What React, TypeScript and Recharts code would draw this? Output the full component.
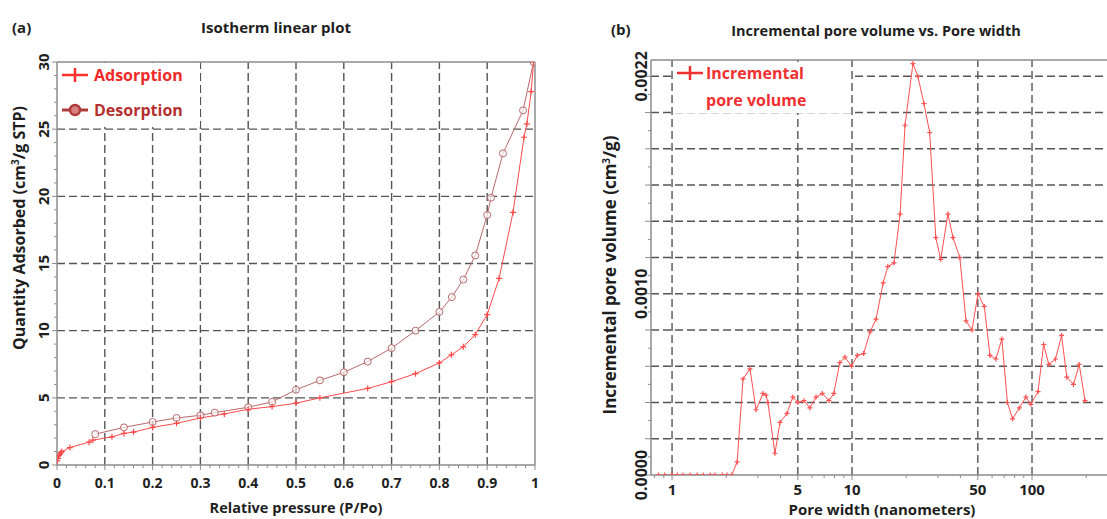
import React from 'react';
import { LineChart, Line, XAxis, YAxis, ReferenceLine } from 'recharts';

// ---------- Data: (a) isotherm ----------
const adsP = [0.0005, 0.002, 0.004, 0.006, 0.008, 0.01, 0.027, 0.067, 0.075, 0.115, 0.14, 0.16, 0.2, 0.25, 0.3, 0.35, 0.4, 0.45, 0.5, 0.55, 0.65, 0.7, 0.75, 0.8, 0.825, 0.85, 0.875, 0.9, 0.925, 0.954, 0.977, 0.983, 0.992, 0.997];
const adsQ = [0.3, 0.5, 0.7, 0.8, 0.9, 1.0, 1.3, 1.7, 1.85, 2.1, 2.35, 2.45, 2.8, 3.1, 3.5, 3.8, 4.15, 4.35, 4.6, 5.0, 5.7, 6.2, 6.8, 7.6, 8.2, 8.8, 9.7, 11.2, 13.9, 18.8, 24.4, 25.4, 27.8, 30.0];
const desP = [0.997, 0.975, 0.933, 0.908, 0.9, 0.875, 0.85, 0.826, 0.8, 0.75, 0.7, 0.65, 0.6, 0.55, 0.5, 0.45, 0.4, 0.33, 0.3, 0.25, 0.2, 0.14, 0.08];
const desQ = [30.0, 26.4, 23.2, 19.9, 18.6, 15.6, 13.8, 12.5, 11.4, 10.0, 8.7, 7.7, 6.9, 6.3, 5.6, 4.7, 4.3, 3.9, 3.7, 3.5, 3.2, 2.8, 2.3];

// ---------- Data: (b) incremental pore volume ----------
const poreW = [0.84, 0.91, 1.0, 1.07, 1.15, 1.26, 1.38, 1.49, 1.63, 1.73, 1.9, 2.02, 2.15, 2.3, 2.48, 2.71, 2.93, 3.2, 3.33, 3.41, 3.73, 3.98, 4.35, 4.69, 5.0, 5.41, 5.83, 6.31, 6.84, 7.44, 7.92, 8.55, 9.14, 9.94, 10.7, 11.6, 12.6, 13.6, 14.9, 15.8, 17.1, 18.5, 19.7, 21.8, 23.2, 25.1, 27.0, 29.2, 31.1, 34.1, 36.4, 39.7, 43.0, 46.4, 50.1, 54.3, 58.4, 63, 68, 73, 78, 85, 92.5, 98.5, 108, 116, 124, 135, 146, 156, 170, 183, 197];
const poreV = [0, 0, 0, 0, 0, 0, 0, 0, 0, 0, 0, 0, 0, 0.000072, 0.00053, 0.000586, 0.00036, 0.00045, 0.00044, 0.0004, 0.00012, 0.00029, 0.00034, 0.00043, 0.0004, 0.00041, 0.00037, 0.00043, 0.00045, 0.00041, 0.00045, 0.00062, 0.00065, 0.0006, 0.00066, 0.00067, 0.00079, 0.00086, 0.00106, 0.00115, 0.00117, 0.00144, 0.00193, 0.00227, 0.0022, 0.00205, 0.00189, 0.00131, 0.00119, 0.00144, 0.00131, 0.0012, 0.00085, 0.0008, 0.001, 0.00093, 0.00066, 0.00064, 0.00075, 0.0004, 0.00031, 0.00037, 0.00043, 0.00039, 0.00046, 0.00072, 0.00061, 0.00064, 0.00077, 0.00054, 0.0005, 0.00061, 0.00041];

// ---------- Ticks / labels ----------
const xTicksA = [0, 0.1, 0.2, 0.3, 0.4, 0.5, 0.6, 0.7, 0.8, 0.9, 1];
const xLabelsA = ['0', '0.1', '0.2', '0.3', '0.4', '0.5', '0.6', '0.7', '0.8', '0.9', '1'];
const yTicksA = [0, 5, 10, 15, 20, 25, 30];
const yLabelsA = ['0', '5', '10', '15', '20', '25', '30'];
const xTicksB = [1, 5, 10, 50, 100];
const xLabelsB = ['1', '5', '10', '50', '100'];
const xMinorB = [0.8, 0.9, 2, 3, 4, 6, 7, 8, 9, 20, 30, 40, 60, 70, 80, 90, 200];
const yTicksB = [0, 0.001, 0.0022];
const yLabelsB = ['0.0000', '0.0010', '0.0022'];
const yGridB = [0.0002, 0.0004, 0.0006, 0.0008, 0.001, 0.0012, 0.0014, 0.0016, 0.0018, 0.002, 0.0022];

const xMinorA = Array.from({ length: 51 }, (_, i) => Math.round(i * 2) / 100);
const yMinorA = Array.from({ length: 31 }, (_, i) => i);
const yMinorB = Array.from({ length: 23 }, (_, i) => Math.round(i * 10) / 100000);

const adsData = adsP.map((p, i) => ({ x: p, y: adsQ[i] }));
const desData = desP.map((p, i) => ({ x: p, y: desQ[i] }));
const poreData = poreW.map((w, i) => ({ x: w, y: poreV[i] }));

const FONT = "'Open Sans', 'Noto Sans', sans-serif";
const AXIS = '#8c8c8c';
const GRID = '#555555';
const ADS = '#ff4a4a';
const DES = '#b86a6a';
const PORE = '#ff5050';

const near = (a: number, b: number) => Math.abs(a - b) < 1e-9;
const labelOf = (ticks: number[], labels: string[], v: number) => {
  const i = ticks.findIndex((t) => near(t, v));
  return i >= 0 ? labels[i] : null;
};

const XTickA = (props: any) => {
  const { x, y, payload } = props;
  const lab = labelOf(xTicksA, xLabelsA, payload.value);
  return (
    <g>
      <line x1={x} x2={x} y1={y} y2={y + (lab ? 5 : 3)} stroke={AXIS} strokeWidth={1} />
      {lab && (
        <text x={x} y={y + 23} textAnchor="middle" fontFamily={FONT} fontWeight={700} fontSize={14} fill="#1e1e1e">
          {lab}
        </text>
      )}
    </g>
  );
};

const YTickA = (props: any) => {
  const { x, y, payload } = props;
  const lab = labelOf(yTicksA, yLabelsA, payload.value);
  return (
    <g>
      <line x1={x} x2={x - (lab ? 5 : 3)} y1={y} y2={y} stroke={AXIS} strokeWidth={1} />
      {lab && (
        <text transform={`translate(${x - 8},${y}) rotate(-90)`} textAnchor="middle" fontFamily={FONT} fontWeight={700} fontSize={15} fill="#1e1e1e">
          {lab}
        </text>
      )}
    </g>
  );
};

const XTickB = (props: any) => {
  const { x, y, payload } = props;
  const lab = labelOf(xTicksB, xLabelsB, payload.value);
  return (
    <g>
      <line x1={x} x2={x} y1={y} y2={y + (lab ? 5 : 3)} stroke={AXIS} strokeWidth={1} />
      {lab && (
        <text x={x} y={y + 20} textAnchor="middle" fontFamily={FONT} fontWeight={700} fontSize={15} fill="#1e1e1e">
          {lab}
        </text>
      )}
    </g>
  );
};

const YTickB = (props: any) => {
  const { x, y, payload } = props;
  const lab = labelOf(yTicksB, yLabelsB, payload.value);
  const major = yGridB.some((g) => near(g, payload.value)) || near(payload.value, 0);
  return (
    <g>
      <line x1={x} x2={x - (major ? 6 : 3)} y1={y} y2={y} stroke={AXIS} strokeWidth={1} />
      {lab && (
        <text transform={`translate(${x - 4},${y}) rotate(-90)`} textAnchor="middle" fontFamily={FONT} fontWeight={700} fontSize={16} fill="#1e1e1e">
          {lab}
        </text>
      )}
    </g>
  );
};

const plusDot = (color: string, s: number) => (p: any) => {
  const { cx, cy, index } = p;
  if (cx == null || cy == null) return <g key={index} />;
  return (
    <path key={index} d={`M${cx - s},${cy}H${cx + s}M${cx},${cy - s}V${cy + s}`} stroke={color} strokeWidth={1.2} fill="none" />
  );
};

const circleDot = (p: any) => {
  const { cx, cy, index } = p;
  if (cx == null || cy == null) return <g key={index} />;
  return <circle key={index} cx={cx} cy={cy} r={3.5} stroke={DES} strokeWidth={1} fill="#ffffff" fillOpacity={0.6} />;
};

const gridDash = '8 4';

export default function App() {
  return (
    <div style={{ position: 'absolute', left: 0, top: 0, width: 1107, height: 519, background: '#ffffff', overflow: 'hidden' }}>
      {/* (a) Isotherm linear plot */}
      <div style={{ position: 'absolute', left: 0, top: 0 }}>
        <LineChart width={560} height={519} margin={{ top: 62, right: 25, bottom: 0, left: 17 }}>
          <XAxis
            type="number"
            dataKey="x"
            domain={[0, 1]}
            ticks={xMinorA}
            interval={0}
            height={54}
            tickSize={0}
            tickMargin={0}
            tickLine={false}
            axisLine={{ stroke: AXIS, strokeWidth: 1.5 }}
            tick={XTickA}
            allowDataOverflow
          />
          <YAxis
            type="number"
            domain={[0, 30]}
            ticks={yMinorA}
            interval={0}
            width={40}
            tickSize={0}
            tickMargin={0}
            tickLine={false}
            axisLine={{ stroke: AXIS, strokeWidth: 1.5 }}
            tick={YTickA}
            allowDataOverflow
          />
          {xTicksA.slice(1, -1).map((v) => (
            <ReferenceLine key={'xa' + v} x={v} stroke={GRID} strokeWidth={1.4} strokeDasharray={gridDash} />
          ))}
          {yTicksA.slice(1, -1).map((v) => (
            <ReferenceLine key={'ya' + v} y={v} stroke={GRID} strokeWidth={1.4} strokeDasharray={gridDash} />
          ))}
          <ReferenceLine x={1} stroke={AXIS} strokeWidth={1.5} />
          <ReferenceLine y={30} stroke={AXIS} strokeWidth={1.5} />
          <Line data={desData} dataKey="y" stroke={DES} strokeWidth={1} dot={circleDot} isAnimationActive={false} />
          <Line data={adsData} dataKey="y" stroke={ADS} strokeWidth={1} dot={plusDot(ADS, 3)} isAnimationActive={false} />
        </LineChart>
      </div>

      {/* (b) Incremental pore volume */}
      <div style={{ position: 'absolute', left: 560, top: 0 }}>
        <LineChart width={547} height={519} margin={{ top: 60, right: 0, bottom: 0, left: 41 }}>
          <XAxis
            type="number"
            dataKey="x"
            scale="log"
            domain={[0.764, 261]}
            ticks={[...xTicksB, ...xMinorB].sort((a, b) => a - b)}
            interval={0}
            height={44}
            tickSize={0}
            tickMargin={0}
            tickLine={false}
            axisLine={{ stroke: AXIS, strokeWidth: 1.5 }}
            tick={XTickB}
            allowDataOverflow
          />
          <YAxis
            type="number"
            domain={[0, 0.00229]}
            ticks={yMinorB}
            interval={0}
            width={50}
            tickSize={0}
            tickMargin={0}
            tickLine={false}
            axisLine={{ stroke: AXIS, strokeWidth: 1.5 }}
            tick={YTickB}
            allowDataOverflow
          />
          {xTicksB.map((v) => (
            <ReferenceLine key={'xb' + v} x={v} stroke={GRID} strokeWidth={1.4} strokeDasharray={gridDash} />
          ))}
          {yGridB.map((v) => (
            <ReferenceLine key={'yb' + v} y={v} stroke={GRID} strokeWidth={1.4} strokeDasharray={gridDash} />
          ))}
          <ReferenceLine y={0.00229} stroke={AXIS} strokeWidth={1.5} />
          <Line data={poreData} dataKey="y" stroke={PORE} strokeWidth={1} dot={plusDot(PORE, 2.5)} isAnimationActive={false} />
        </LineChart>
      </div>

      {/* Overlay: titles, axis titles, legends */}
      <svg width={1107} height={519} style={{ position: 'absolute', left: 0, top: 0, pointerEvents: 'none' }}>
        <g fontFamily={FONT} fontWeight={700} fill="#1e1e1e">
          <text x={12} y={33} fontSize={15}>(a)</text>
          <text x={276} y={33} fontSize={15}>
            <tspan textAnchor="middle">Isotherm linear plot</tspan>
          </text>
          <text x={611} y={35} fontSize={15}>(b)</text>
          <text x={876} y={36} fontSize={14.5} textAnchor="middle">Incremental pore volume vs. Pore width</text>
          <text x={296} y={513} fontSize={14.5} textAnchor="middle">Relative pressure (P/Po)</text>
          <text x={882} y={515} fontSize={15} textAnchor="middle">Pore width (nanometers)</text>
          <text transform="translate(25,228) rotate(-90)" fontSize={16} textAnchor="middle">
            Quantity Adsorbed (cm<tspan fontSize={10} dy={-6}>3</tspan><tspan dy={6}>/g STP)</tspan>
          </text>
          <text transform="translate(616,275) rotate(-90)" fontSize={17} textAnchor="middle">
            Incremental pore volume (cm<tspan fontSize={10} dy={-6}>3</tspan><tspan dy={6}>/g)</tspan>
          </text>
        </g>

        {/* legend (a) */}
        <rect x={58} y={63} width={142} height={64} fill="#ffffff" />
        <line x1={62} x2={88} y1={75} y2={75} stroke="#ff3030" strokeWidth={2.5} />
        <line x1={75} x2={75} y1={68} y2={82} stroke="#ff3030" strokeWidth={2.5} />
        <text x={94} y={81} fontFamily={FONT} fontWeight={700} fontSize={16} fill="#f02828">Adsorption</text>
        <line x1={62} x2={88} y1={110} y2={110} stroke="#b03a3a" strokeWidth={3} />
        <circle cx={75} cy={110} r={5} stroke="#b03a3a" strokeWidth={2.5} fill="#d88080" />
        <text x={94} y={116} fontFamily={FONT} fontWeight={700} fontSize={16} fill="#b5302f">Desorption</text>

        {/* legend (b) */}
        <rect x={673} y={62} width={178} height={51} fill="#ffffff" />
        <line x1={677} x2={703} y1={73} y2={73} stroke="#f03030" strokeWidth={2.5} />
        <line x1={690} x2={690} y1={66} y2={80} stroke="#f03030" strokeWidth={2.5} />
        <text x={706} y={79} fontFamily={FONT} fontWeight={700} fontSize={16} fill="#f03030">Incremental</text>
        <text x={706} y={106} fontFamily={FONT} fontWeight={700} fontSize={16} fill="#f03030">pore volume</text>
      </svg>
    </div>
  );
}
